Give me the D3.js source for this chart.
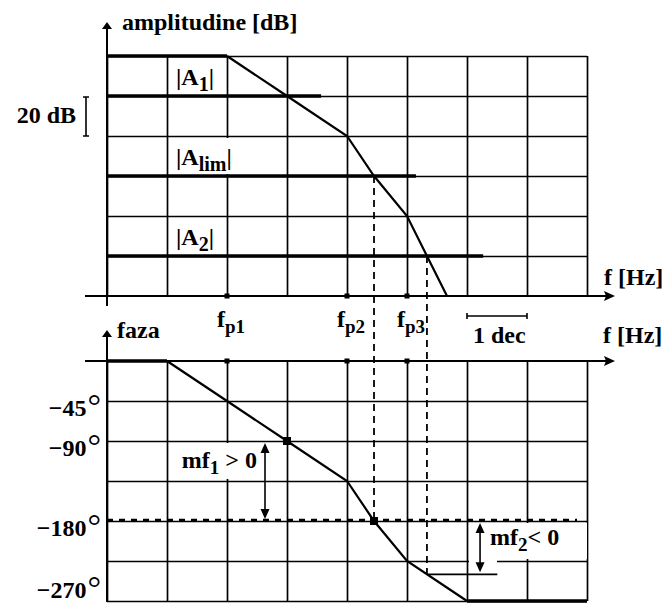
<!DOCTYPE html>
<html><head><meta charset="utf-8">
<script src="https://cdn.jsdelivr.net/npm/d3@7"></script>
<style>
body{margin:0;background:#fff}
svg{display:block}
text{font-family:"Liberation Serif","Times New Roman",serif;font-weight:bold;fill:#000;font-size:24px}
</style>
</head><body><svg id="chart" width="662" height="606"></svg>
<script>
// Frequency grid: one column per decade
const decades = [1, 10, 1e2, 1e3, 1e4, 1e5, 1e6, 1e7, 1e8];
// Pole frequencies f_p1, f_p2, f_p3
const poleFreqs = [1e2, 1e4, 1e5];
const poleNames = ["1", "2", "3"];
// Amplitude (dB) grid and curve
const gainTicks = [0, 20, 40, 60, 80, 100, 120];
const gainFreqs = [1, 1e2, 1e3, 1e4, 2.82e4, 1e5, 2.15e5, 4.64e5];
const gainDb = [120, 120, 100, 80, 60, 40, 20, 0];
// Feedback levels |A1|, |Alim|, |A2|
const levelNames = ["1", "lim", "2"];
const levelDb = [100, 60, 20];
const levelEnd = [3.7e3, 1.41e5, 1.86e6];
// Phase (degrees) grid and curve
const phaseTicks = [0, -45, -90, -135, -180, -225, -270];
const phaseLabels = [-45, -90, -180, -270];
const phaseFreqs = [1, 10, 1e2, 1e3, 1e4, 2.82e4, 1e5, 1e6, 1e8];
const phaseDeg = [0, 0, -45, -90, -135, -180, -225, -270, -270];
// Where the amplitude curve meets each level, and the phase there
const crossFreqs = [1e3, 2.82e4, 2.15e5];
const crossPhase = [-90, -180, -240];
// Phase margins mf1 and mf2
const marginFreqs = [4.3e2, 1.65e6];
const marginTop = [-90, -180];
const marginBottom = [-180, -240];

const svg = d3.select("#chart");
const x = d3.scaleLog().domain([1, 1e8]).range([107, 587]);
const yG = d3.scaleLinear().domain([0, 120]).range([296, 56]);
const yP = d3.scaleLinear().domain([0, -270]).range([361, 601]);
const W = x(1e8) - x(1);
const ink = "#000";

function gridAxis(g) {
  g.select(".domain").remove();
  g.selectAll(".tick line").attr("stroke", ink).attr("stroke-width", 1.7);
  g.selectAll(".tick text").remove();
}

// amplitude grid
svg.append("g").attr("transform", `translate(0,${yG(0)})`)
  .call(d3.axisBottom(x).tickValues(decades).tickSize(-(yG(0) - yG(120))).tickFormat(""))
  .call(gridAxis);
svg.append("g").attr("transform", `translate(${x(1)},0)`)
  .call(d3.axisLeft(yG).tickValues(gainTicks.slice(1)).tickSize(-W).tickFormat(""))
  .call(gridAxis);
// phase grid
svg.append("g").attr("transform", `translate(0,${yP(0)})`)
  .call(d3.axisBottom(x).tickValues(decades).tickSize(yP(-270) - yP(0)).tickFormat(""))
  .call(gridAxis);
svg.append("g").attr("transform", `translate(${x(1)},0)`)
  .call(d3.axisLeft(yP).tickValues(phaseTicks.slice(1)).tickSize(-W).tickFormat(""))
  .call(gridAxis);

// clear space behind the labels that sit on the grid
svg.append("rect").attr("x", x(10) + 3).attr("y", yG(80) + 2).attr("width", 75).attr("height", 36).attr("fill", "#fff");
svg.append("rect").attr("x", 172).attr("y", yP(-90) + 2).attr("width", 90).attr("height", 36).attr("fill", "#fff");
svg.append("rect").attr("x", x(1e6) + 2).attr("y", yP(-180) + 2).attr("width", 118).attr("height", 36).attr("fill", "#fff");
svg.append("rect").attr("x", x(1e6) + 2).attr("y", yP(-180) + 2).attr("width", 28).attr("height", 43).attr("fill", "#fff");

// level lines
levelDb.forEach((db, i) => {
  svg.append("line").attr("x1", x(1)).attr("x2", x(levelEnd[i]))
    .attr("y1", yG(db)).attr("y2", yG(db)).attr("stroke", ink).attr("stroke-width", 3.4);
});

// amplitude curve
const gainLine = d3.line().x(d => x(d[0])).y(d => yG(d[1]));
const gainData = gainFreqs.map((f, i) => [f, gainDb[i]]);
svg.append("path").attr("d", gainLine(gainData.slice(0, 2))).attr("fill", "none").attr("stroke", ink).attr("stroke-width", 3.4);
svg.append("path").attr("d", gainLine(gainData.slice(1))).attr("fill", "none").attr("stroke", ink).attr("stroke-width", 2.2);

// phase curve
const phaseLine = d3.line().x(d => x(d[0])).y(d => yP(d[1]));
const phaseData = phaseFreqs.map((f, i) => [f, phaseDeg[i]]);
svg.append("path").attr("d", phaseLine(phaseData.slice(0, 2))).attr("fill", "none").attr("stroke", ink).attr("stroke-width", 3.4);
svg.append("path").attr("d", phaseLine(phaseData.slice(1, 8))).attr("fill", "none").attr("stroke", ink).attr("stroke-width", 2.2);
svg.append("path").attr("d", phaseLine(phaseData.slice(7))).attr("fill", "none").attr("stroke", ink).attr("stroke-width", 3.4);

// -180° reference
svg.append("line").attr("x1", x(1)).attr("x2", x(1e8) - 10).attr("y1", yP(-180) - 1).attr("y2", yP(-180) - 1)
  .attr("stroke", ink).attr("stroke-width", 2.6).attr("stroke-dasharray", "6,6");

// dashed drop lines from the crossings
[1, 2].forEach(i => {
  svg.append("line").attr("x1", x(crossFreqs[i])).attr("x2", x(crossFreqs[i]))
    .attr("y1", yG(levelDb[i])).attr("y2", yP(crossPhase[i]))
    .attr("stroke", ink).attr("stroke-width", 1.8).attr("stroke-dasharray", "7,5");
});
// phase at the |A2| crossing
svg.append("line").attr("x1", x(crossFreqs[2])).attr("x2", x(3.2e6))
  .attr("y1", yP(crossPhase[2])).attr("y2", yP(crossPhase[2])).attr("stroke", ink).attr("stroke-width", 1.6);

// markers at the |A1| and |Alim| phase points
[0, 1].forEach(i => {
  svg.append("rect").attr("x", x(crossFreqs[i]) - 4).attr("y", yP(crossPhase[i]) - 4)
    .attr("width", 8).attr("height", 8).attr("fill", ink);
});

// axes with arrowheads
function hAxis(y) {
  svg.append("line").attr("x1", x(1) - 22).attr("x2", 606).attr("y1", y).attr("y2", y).attr("stroke", ink).attr("stroke-width", 2);
  svg.append("path").attr("d", `M615,${y} L604,${y - 5} L606,${y} L604,${y + 5} Z`).attr("fill", ink);
}
function vAxis(top, bottom) {
  svg.append("line").attr("x1", x(1)).attr("x2", x(1)).attr("y1", bottom).attr("y2", top + 5).attr("stroke", ink).attr("stroke-width", 2);
  svg.append("path").attr("d", `M${x(1)},${top} L${x(1) - 5},${top + 7} L${x(1) + 5},${top + 7} Z`).attr("fill", ink);
}
hAxis(yG(0));
vAxis(22, yG(0) + 10);
hAxis(yP(0));
vAxis(330, 602);

// pole dots on both frequency axes
poleFreqs.forEach(f => {
  [yG(0), yP(0)].forEach(y => {
    svg.append("rect").attr("x", x(f) - 2.5).attr("y", y - 2.5).attr("width", 5).attr("height", 5).attr("fill", ink);
  });
});

// phase margin arrows
const head = (xc, y, dir) => `M${xc},${y} L${xc - 4.5},${y + dir * 10} L${xc + 4.5},${y + dir * 10} Z`;
marginFreqs.forEach((f, i) => {
  const xc = x(f), y1 = yP(marginTop[i]) + 2, y2 = yP(marginBottom[i]) - 2;
  svg.append("line").attr("x1", xc).attr("x2", xc).attr("y1", y1 + 6).attr("y2", y2 - 6).attr("stroke", ink).attr("stroke-width", 1.6);
  svg.append("path").attr("d", head(xc, y1, 1)).attr("fill", ink);
  svg.append("path").attr("d", head(xc, y2, -1)).attr("fill", ink);
});

// text with a subscript part
function sub(t, main, s, after, dy, size) {
  t.append("tspan").text(main);
  t.append("tspan").attr("font-size", size).attr("dy", dy).text(s);
  if (after) t.append("tspan").attr("dy", -dy).text(after);
  return t;
}

svg.append("text").attr("x", x(1) + 15).attr("y", 30).text("amplitudine [dB]");
svg.append("text").attr("x", 604).attr("y", yG(0) - 11).text("f [Hz]");
svg.append("text").attr("x", 76).attr("y", (yG(100) + yG(80)) / 2 + 7).attr("text-anchor", "end").text("20 dB");
// 20 dB bracket
svg.append("path").attr("d", `M83,${yG(100) + 1}H89M86,${yG(100) + 1}V${yG(80)}M83,${yG(80)}H89`)
  .attr("fill", "none").attr("stroke", ink).attr("stroke-width", 1.6);

levelDb.forEach((db, i) => {
  sub(svg.append("text").attr("x", x(10) + 9).attr("y", yG(db) - 11), "|A", levelNames[i], "|", 6, 20);
});

svg.append("text").attr("x", x(1) + 10).attr("y", 338).text("faza");
poleFreqs.forEach((f, i) => {
  sub(svg.append("text").attr("x", x(f) + 4).attr("y", 327).attr("text-anchor", "middle"), "f", "p" + poleNames[i], null, 6, 19);
});
// one-decade scale bar
svg.append("path").attr("d", `M${x(1e6)},313V319M${x(1e6)},316H${x(1e7)}M${x(1e7)},313V319`)
  .attr("fill", "none").attr("stroke", ink).attr("stroke-width", 1.6);
svg.append("text").attr("x", x(1e6) + 6).attr("y", 343).text("1 dec");
svg.append("text").attr("x", 603).attr("y", 343).text("f [Hz]");

phaseLabels.forEach(v => {
  const t = svg.append("text").attr("x", 101).attr("y", Math.min(yP(v) + 15, 598)).attr("text-anchor", "end");
  t.append("tspan").text("\u2212" + Math.abs(v));
  t.append("tspan").attr("dx", 1).attr("dy", 1).attr("font-size", 34).attr("font-weight", "normal").text("\u00b0");
});

sub(svg.append("text").attr("x", x(marginFreqs[0]) - 8).attr("y", 468).attr("text-anchor", "end"), "mf", "1", " > 0", 6, 19);
sub(svg.append("text").attr("x", x(marginFreqs[1]) + 10).attr("y", 545), "mf", "2", "< 0", 6, 19);
</script>
</body></html>
